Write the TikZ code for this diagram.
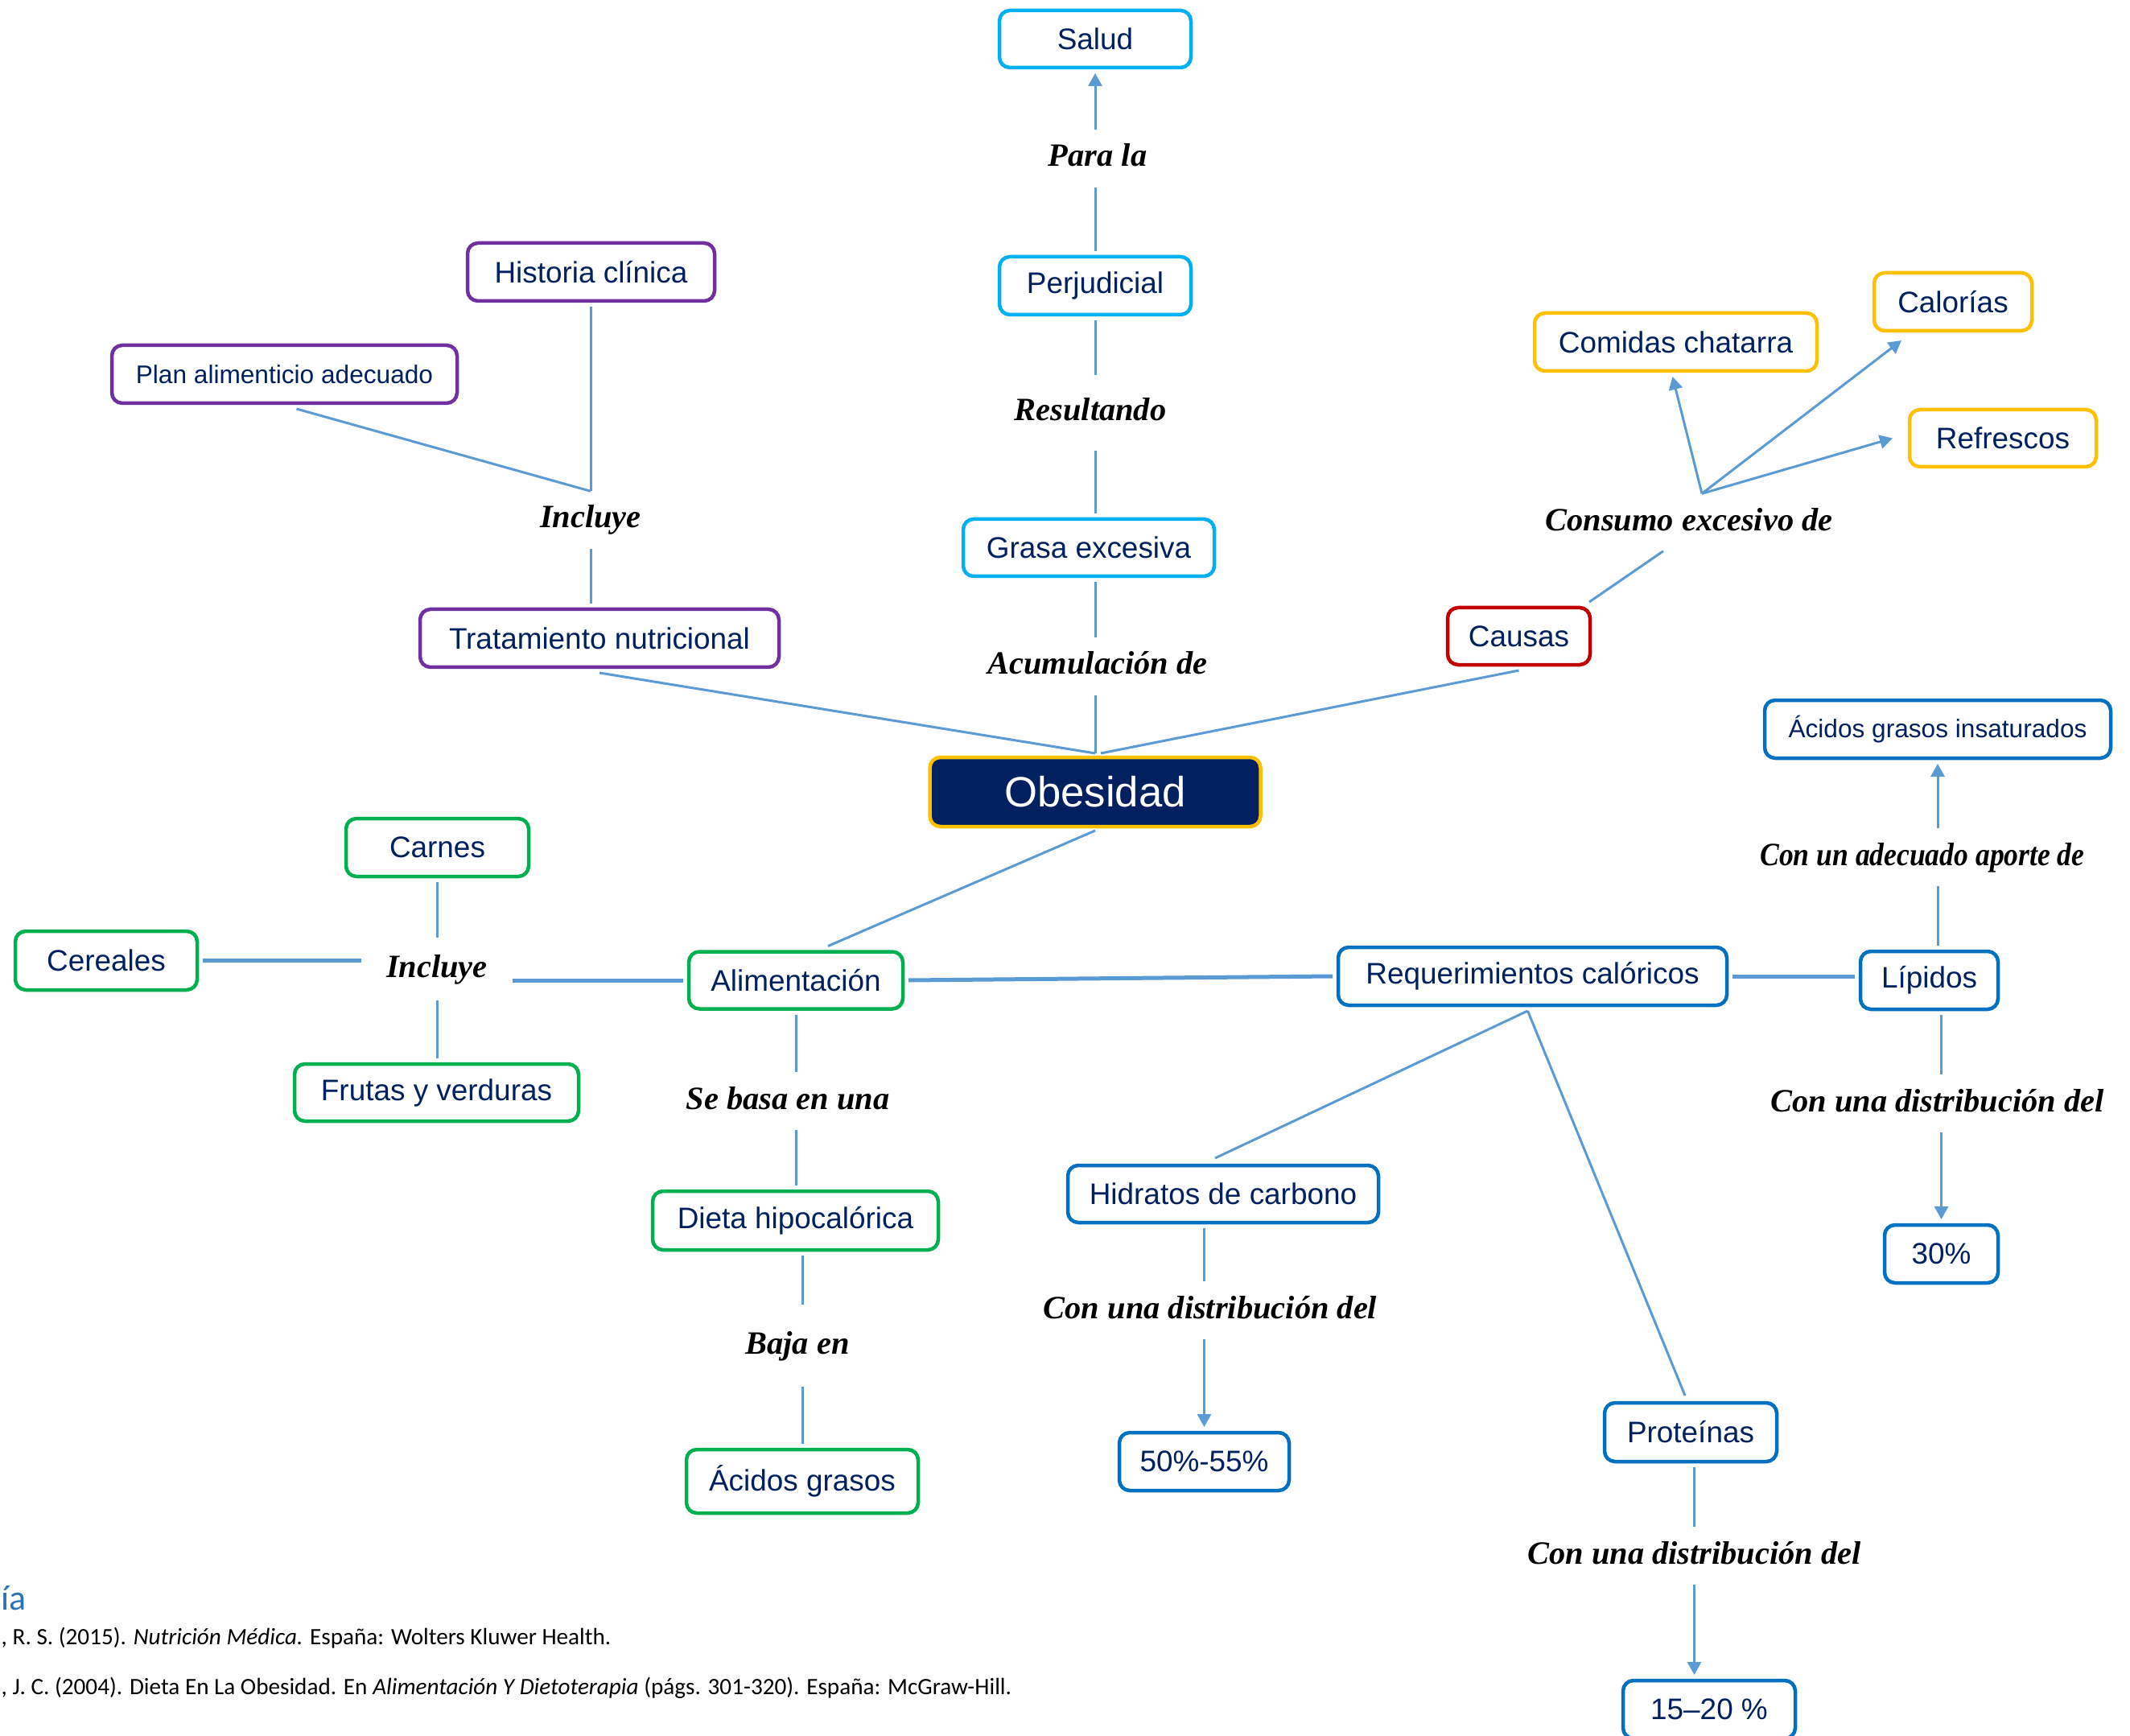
\documentclass[tikz,border=0pt]{standalone}
\usepackage{fontspec}
\setmainfont{Liberation Sans}
\newfontfamily\labfam{Liberation Serif}
\newfontfamily\labfamnarrow{Liberation Serif}[FakeStretch=0.88]
\newfontfamily\bibfam{Carlito}
\usetikzlibrary{arrows.meta,calc}
\definecolor{navy}{HTML}{002060}
\definecolor{cyanB}{HTML}{00B0F0}
\definecolor{purpB}{HTML}{7030A0}
\definecolor{goldB}{HTML}{FFC000}
\definecolor{redB}{HTML}{C00000}
\definecolor{greenB}{HTML}{00B050}
\definecolor{blueB}{HTML}{0070C0}
\definecolor{lineB}{HTML}{5B9BD5}
\definecolor{headB}{HTML}{2E74B5}
\newcommand{\myboxfont}{\fontsize{10.5}{12.6}\selectfont}
\newcommand{\mysmallboxfont}{\fontsize{9}{10.8}\selectfont}
\newcommand{\mylabfont}{\labfam\bfseries\itshape\fontsize{11.5}{13.8}\selectfont}
\newcommand{\mylabfontnarrow}{\labfamnarrow\bfseries\itshape\fontsize{11.5}{13.8}\selectfont}
\newcommand{\mybibfont}{\bibfam\fontsize{8.3}{10}\selectfont}
\newcommand{\myheadfont}{\bibfam\fontsize{12.5}{15}\selectfont}
\begin{document}
\begin{tikzpicture}[
  box/.style={draw=#1, line width=0.045cm, rounded corners=0.13cm, fill=white, text=navy, font=\myboxfont, inner sep=0pt, outer sep=0.07cm},
  lab/.style={font=\mylabfont, text=black, inner xsep=0.05cm, inner ysep=0.15cm, text height=0.3cm, text depth=0.1cm},
  conn/.style={draw=lineB, line width=0.03cm},
  thickconn/.style={draw=lineB, line width=0.05cm},
  arr/.style={conn, -{Triangle[width=0.17cm,length=0.16cm]}},
]
\fill[white] (0,0) rectangle (26.47,-21.57);
\useasboundingbox (0,0) rectangle (26.47,-21.57);

% ---- boxes ----
\node[box=cyanB, minimum width=2.38cm, minimum height=0.71cm] (salud) at (13.61,-0.485) {Salud};
\node[box=cyanB, minimum width=2.38cm, minimum height=0.72cm] (perj) at (13.61,-3.55) {Perjudicial};
\node[box=cyanB, minimum width=3.12cm, minimum height=0.71cm] (grasa) at (13.53,-6.805) {Grasa excesiva};
\node[box=goldB, fill=navy, text=white, font=\fontsize{15}{18}\selectfont, outer sep=0.05cm, minimum width=4.11cm, minimum height=0.86cm] (ob) at (13.61,-9.84) {Obesidad};

\node[box=purpB, minimum width=4.46cm, minimum height=0.72cm] (trat) at (7.45,-7.93) {Tratamiento nutricional};
\node[box=purpB, minimum width=3.07cm, minimum height=0.72cm] (hist) at (7.345,-3.38) {Historia clínica};
\node[box=purpB, font=\mysmallboxfont, minimum width=4.29cm, minimum height=0.72cm] (plan) at (3.535,-4.65) {Plan alimenticio adecuado};

\node[box=redB, minimum width=1.77cm, minimum height=0.71cm] (causas) at (18.875,-7.905) {Causas};
\node[box=goldB, minimum width=3.51cm, minimum height=0.72cm] (com) at (20.825,-4.25) {Comidas chatarra};
\node[box=goldB, minimum width=1.96cm, minimum height=0.72cm] (cal) at (24.27,-3.75) {Calorías};
\node[box=goldB, minimum width=2.32cm, minimum height=0.71cm] (refr) at (24.89,-5.445) {Refrescos};

\node[box=greenB, minimum width=2.66cm, minimum height=0.71cm] (alim) at (9.89,-12.18) {Alimentación};
\node[box=greenB, minimum width=2.27cm, minimum height=0.72cm] (carnes) at (5.435,-10.53) {Carnes};
\node[box=greenB, minimum width=2.26cm, minimum height=0.73cm] (cer) at (1.32,-11.935) {Cereales};
\node[box=greenB, minimum width=3.53cm, minimum height=0.71cm] (frutas) at (5.425,-13.575) {Frutas y verduras};
\node[box=greenB, minimum width=3.55cm, minimum height=0.73cm] (dieta) at (9.885,-15.165) {Dieta hipocalórica};
\node[box=greenB, minimum width=2.88cm, minimum height=0.79cm] (acg) at (9.97,-18.405) {Ácidos grasos};

\node[box=blueB, minimum width=4.83cm, minimum height=0.72cm] (req) at (19.045,-12.13) {Requerimientos calóricos};
\node[box=blueB, minimum width=1.71cm, minimum height=0.72cm] (lip) at (23.975,-12.18) {Lípidos};
\node[box=blueB, font=\mysmallboxfont, minimum width=4.30cm, minimum height=0.72cm] (ins) at (24.08,-9.06) {Ácidos grasos insaturados};
\node[box=blueB, minimum width=1.41cm, minimum height=0.72cm] (c30) at (24.125,-15.58) {30\%};
\node[box=blueB, minimum width=3.86cm, minimum height=0.71cm] (hid) at (15.2,-14.835) {Hidratos de carbono};
\node[box=blueB, minimum width=2.11cm, minimum height=0.72cm] (c50) at (14.965,-18.16) {50\%-55\%};
\node[box=blueB, minimum width=2.14cm, minimum height=0.73cm] (prot) at (21.01,-17.795) {Proteínas};
\node[box=blueB, minimum width=2.14cm, minimum height=0.72cm] (c15) at (21.24,-21.24) {15–20 \%};

% ---- labels ----
\node[lab] (parala) at (13.64,-1.97) {Para la};
\node[lab, inner ysep=0.26cm] (res) at (13.55,-5.13) {Resultando};
\node[lab] (acu) at (13.64,-8.28) {Acumulación de};
\node[lab] (inc1) at (7.34,-6.46) {Incluye};
\node[lab] (cons) at (20.99,-6.49) {Consumo excesivo de};
\node[lab, inner xsep=0.3cm, inner ysep=0.18cm] (inc2) at (5.43,-12.04) {Incluye};
\node[lab] (sebasa) at (9.79,-13.68) {Se basa en una};
\node[lab, inner ysep=0.3cm] (baja) at (9.91,-16.72) {Baja en};
\node[lab, font=\mylabfontnarrow] (cua) at (23.89,-10.65) {Con un adecuado aporte de};
\node[lab] (cdr) at (24.075,-13.71) {Con una distribución del};
\node[lab] (cdm) at (15.04,-16.28) {Con una distribución del};
\node[lab] (cdb) at (21.055,-19.33) {Con una distribución del};

% ---- bibliography ----
\node[anchor=base east, inner sep=0pt, text=headB, font=\myheadfont] (bibhead) at (0.33,-20.0) {ía};
\node[anchor=base west, inner sep=0pt, font=\mybibfont] (bib1) at (0.01,-20.43) {, R. S. (2015). \textit{Nutrición Médica.} España: Wolters Kluwer Health.};
\node[anchor=base west, inner sep=0pt, font=\mybibfont] (bib2) at (0.01,-21.05) {, J. C. (2004). Dieta En La Obesidad. En \textit{Alimentación Y Dietoterapia} (págs. 301-320). España: McGraw-Hill.};

% ---- connectors: top chain ----
\draw[conn] (perj.north) -- (perj.north |- parala.south);
\draw[arr] (salud.south |- parala.north) -- (salud.south);
\draw[conn] (perj.south) -- (perj.south |- res.north);
\draw[conn] (perj.south |- res.south) -- (perj.south |- grasa.north);
\draw[conn] (ob.north |- grasa.south) -- (ob.north |- acu.north);
\draw[conn] (ob.north |- acu.south) -- (ob.north);

% ---- tratamiento ----
\draw[conn] (hist.south -| inc1.north) -- (inc1.north);
\draw[conn] ([xshift=0.15cm]plan.south) -- (inc1.north);
\draw[conn] (inc1.south) -- (inc1.south |- trat.north);
\draw[conn] (trat.south) -- (ob.north);

% ---- causas ----
\draw[conn] (causas.south) -- ([xshift=0.07cm]ob.north);
\draw[conn] ([xshift=-0.08cm]causas.north east) -- ([xshift=-0.32cm]cons.south);
\draw[arr] ([xshift=0.16cm]cons.north) -- ([xshift=-0.04cm]com.south);
\draw[arr] ([xshift=0.16cm]cons.north) -- ([xshift=0.41cm,yshift=-0.05cm]cal.south west);
\draw[arr] ([xshift=0.16cm]cons.north) -- ([xshift=-0.14cm]refr.west);

% ---- alimentacion ----
\draw[conn] (ob.south) -- ([xshift=0.4cm]alim.north);
\draw[conn] (carnes.south -| inc2.north) -- (inc2.north);
\draw[conn] (inc2.south) -- (inc2.south |- frutas.north);
\draw[thickconn] (cer.east) -- (cer.east -| inc2.west);
\draw[thickconn] (alim.west -| inc2.east) -- (alim.west);
\draw[conn] (alim.south) -- (alim.south |- sebasa.north);
\draw[conn] (alim.south |- sebasa.south) -- (alim.south |- dieta.north);
\draw[conn] (acg.north |- dieta.south) -- (acg.north |- baja.north);
\draw[conn] (acg.north |- baja.south) -- (acg.north);

% ---- requerimientos ----
\draw[thickconn] (alim.east) -- (req.west);
\draw[thickconn] (req.east) -- (req.east -| lip.west);
\draw[conn] (lip.north -| ins.south) -- (cua.south -| ins.south);
\draw[arr] (cua.north -| ins.south) -- (ins.south);
\draw[conn] (lip.south -| c30.north) -- (cdr.north -| c30.north);
\draw[arr] (cdr.south -| c30.north) -- (c30.north);
\draw[conn] ([xshift=-0.06cm]req.south) -- ([xshift=-0.1cm,yshift=0.02cm]hid.north);
\draw[conn] (c50.north |- hid.south) -- (c50.north |- cdm.north);
\draw[arr] (c50.north |- cdm.south) -- (c50.north);
\draw[conn] ([xshift=-0.06cm]req.south) -- ([xshift=-0.07cm,yshift=0.02cm]prot.north);
\draw[conn] (cdb.north |- prot.south) -- (cdb.north);
\draw[arr] (cdb.south) -- (cdb.south |- c15.north);
\end{tikzpicture}
\end{document}
